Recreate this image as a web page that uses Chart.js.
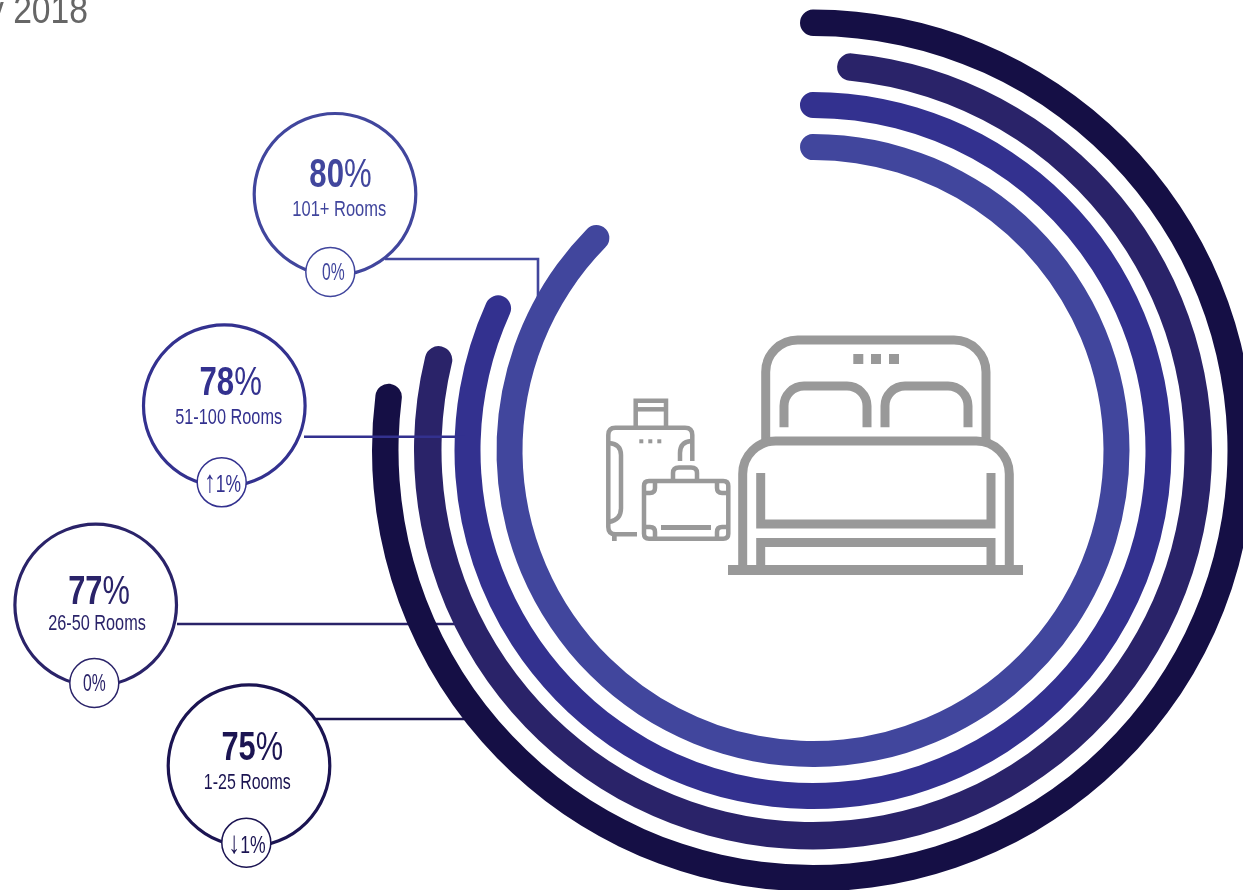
<!DOCTYPE html>
<html>
<head>
<meta charset="utf-8">
<title>Occupancy by property size</title>
<script src="https://cdn.jsdelivr.net/npm/chart.js@4/dist/chart.umd.min.js"></script>
<style>
    html, body { margin: 0; padding: 0; width: 1243px; height: 890px; overflow: hidden; background: #fff; }
    #rings { position: absolute; left: 0; top: 0; }
    #overlay { position: absolute; left: 0; top: 0; }
    text { font-family: "Liberation Sans", sans-serif; text-anchor: middle; }
</style>
</head>
<body>
<canvas id="rings" width="1300" height="900"></canvas>
<svg id="overlay" width="1243" height="890" xmlns="http://www.w3.org/2000/svg"></svg>

<script>
// Occupancy per property size, outermost ring first
const roomBands = ['1-25 Rooms', '26-50 Rooms', '51-100 Rooms', '101+ Rooms'];
const occupancy = [75, 77, 78, 80];
const changeLabels = ['↓1%', '0%', '↑1%', '0%'];
const titleText = 'y 2018';

// Ring styling
const ringColors = ['#150f45', '#2a2369', '#33318f', '#41469d'];
const ringThickness = [26.5, 27.5, 26, 26];
const ringGaps = [15.5, 13, 16];
const ringStart = [-1.74, 3.6, -2.16, -2.45];   // degrees from 12 o'clock
const ringSweep = [280.7, 282.05, 298.6, 319.35]; // degrees taken by each value

// Callout layout, same order as the rings
const bubbleCentres = [[249, 765.7], [95.7, 605], [224.3, 405.7], [335, 194.3]];
const badgeCentres = [[246.3, 842.7], [94.3, 683], [221.7, 482.3], [330.3, 272]];
const bubbleColors = ['#1b1452', '#2a2369', '#33318f', '#41469d'];
const leaderPaths = [
    [[316, 719], [470, 719]],
    [[177, 624], [456, 624]],
    [[304, 436.7], [465, 436.7]],
    [[385, 259], [538, 259], [538, 300]]
];
const leaderOnTop = [false, false, true, false];
const valueAnchors = [[252.3, 760], [99, 604.3], [230.7, 395], [340.5, 186.7]];
const valueWidths = [61.7, 61.7, 62.3, 62.3];
const bandAnchors = [[247.3, 788.7], [97, 630], [228.7, 424.3], [339.3, 216]];
const bandWidths = [87, 97.7, 107, 94];
const badgeAnchors = [[247, 853], [94.3, 690.5], [222.5, 492], [333.3, 280.3]];
const badgeWidths = [37.3, 22.7, 37, 22.7];

function buildDatasets() {
    const datasets = [];
    occupancy.forEach((value, i) => {
        datasets.push({
            data: [value, 100 - value],
            backgroundColor: [ringColors[i], 'transparent'],
            borderWidth: 0,
            borderRadius: 14,
            rotation: ringStart[i],
            circumference: ringSweep[i] * 100 / value,
            weight: ringThickness[i]
        });
        // Empty band between two rings
        if (i < ringGaps.length) {
            datasets.push({
                data: [1],
                backgroundColor: ['transparent'],
                borderWidth: 0,
                weight: ringGaps[i]
            });
        }
    });
    return datasets;
}

function drawLeader(ctx, i) {
    ctx.save();
    ctx.strokeStyle = bubbleColors[i];
    ctx.lineWidth = 2.6;
    ctx.lineJoin = 'miter';
    ctx.beginPath();
    leaderPaths[i].forEach((p, n) => {
        if (n === 0) ctx.moveTo(p[0], p[1]);
        else ctx.lineTo(p[0], p[1]);
    });
    ctx.stroke();
    ctx.restore();
}

function drawCircle(ctx, centre, radius, width, color) {
    ctx.save();
    ctx.beginPath();
    ctx.arc(centre[0], centre[1], radius, 0, Math.PI * 2);
    ctx.fillStyle = '#fff';
    ctx.fill();
    ctx.lineWidth = width;
    ctx.strokeStyle = color;
    ctx.stroke();
    ctx.restore();
}

const calloutPlugin = {
    id: 'callouts',
    beforeDatasetsDraw(chart) {
        occupancy.forEach((v, i) => {
            if (!leaderOnTop[i]) drawLeader(chart.ctx, i);
        });
    },
    afterDatasetsDraw(chart) {
        occupancy.forEach((v, i) => {
            if (leaderOnTop[i]) drawLeader(chart.ctx, i);
            drawCircle(chart.ctx, bubbleCentres[i], 80.8, 3.2, bubbleColors[i]);
            drawCircle(chart.ctx, badgeCentres[i], 24.5, 1.5, bubbleColors[i]);
        });
    }
};

new Chart(document.getElementById('rings'), {
    type: 'doughnut',
    data: { labels: ['Occupancy', 'Rest'], datasets: buildDatasets() },
    options: {
        responsive: false,
        animation: false,
        events: [],
        cutout: 290.5,
        layout: { padding: { left: 372, right: 46, top: 9.5, bottom: 8.5 } },
        plugins: { legend: { display: false }, tooltip: { enabled: false } }
    },
    plugins: [calloutPlugin]
});

// Texts and the two line icons sit in an svg above the canvas
const svg = document.getElementById('overlay');
const SVG_NS = 'http://www.w3.org/2000/svg';

// The text face is condensed, so every string is squeezed to a fixed width
function addText(x, y, size, color, width) {
    const t = document.createElementNS(SVG_NS, 'text');
    t.setAttribute('x', x);
    t.setAttribute('y', y);
    t.setAttribute('font-size', size);
    t.setAttribute('fill', color);
    t.setAttribute('textLength', width);
    t.setAttribute('lengthAdjust', 'spacingAndGlyphs');
    svg.appendChild(t);
    return t;
}

function addSpan(parent, text, attrs) {
    const s = document.createElementNS(SVG_NS, 'tspan');
    Object.keys(attrs).forEach(k => s.setAttribute(k, attrs[k]));
    s.textContent = text;
    parent.appendChild(s);
}

occupancy.forEach((value, i) => {
    const big = addText(valueAnchors[i][0], valueAnchors[i][1], 40, bubbleColors[i], valueWidths[i]);
    addSpan(big, String(value), { 'font-weight': '700' });
    big.appendChild(document.createTextNode('%'));

    addText(bandAnchors[i][0], bandAnchors[i][1], 21.5, bubbleColors[i], bandWidths[i]).textContent = roomBands[i];

    const badge = addText(badgeAnchors[i][0], badgeAnchors[i][1], 23, bubbleColors[i], badgeWidths[i]);
    const label = changeLabels[i];
    if (label.length > 2) {
        // Arrow glyphs are small in this face, give them more height
        addSpan(badge, label[0], { 'font-size': '31' });
        badge.appendChild(document.createTextNode(label.slice(1)));
    } else {
        badge.textContent = label;
    }
});

addText(37.5, 23, 39, '#666', 101).textContent = titleText;

function addIconPath(d, width) {
    const p = document.createElementNS(SVG_NS, 'path');
    p.setAttribute('d', d);
    p.setAttribute('fill', 'none');
    p.setAttribute('stroke', '#999');
    p.setAttribute('stroke-width', width);
    svg.appendChild(p);
}

function addIconBlock(x, y, w, h) {
    const r = document.createElementNS(SVG_NS, 'rect');
    r.setAttribute('x', x);
    r.setAttribute('y', y);
    r.setAttribute('width', w);
    r.setAttribute('height', h);
    r.setAttribute('fill', '#999');
    svg.appendChild(r);
}

// Bed
addIconPath('M765.7 441 V372 A32 32 0 0 1 797.7 340 H954 A32 32 0 0 1 986 372 V441', 9);
addIconPath('M742.7 565 V474 A33 33 0 0 1 775.7 441 H976 A33 33 0 0 1 1009.3 474 V565', 9);
addIconPath('M760.7 473 V524 H991 V473', 9);
addIconPath('M760.7 565 V542.5 H991 V565', 9);
addIconPath('M784 427.3 V406 A20 20 0 0 1 804 386 H847 A20 20 0 0 1 867 406 V427.3', 9);
addIconPath('M885 427.3 V406 A20 20 0 0 1 905 386 H948 A20 20 0 0 1 968 406 V427.3', 9);
addIconBlock(728, 565, 295, 10);
addIconBlock(853.3, 354, 10, 10);
addIconBlock(871, 354, 10, 10);
addIconBlock(889, 354, 10, 10);

// Suitcase
addIconPath('M692.3 461 V435 Q692.3 427.7 685 427.7 H615.5 Q608.3 427.7 608.3 435 V527 Q608.3 534.3 615.5 534.3 H637', 4.5);
addIconPath('M609 443 Q621 444 621 455 V508 Q621 520 609 522', 4.5);
addIconPath('M691 441 Q680 442 680 453 V461', 4.5);
addIconPath('M635.7 427 V400.7 H666 V427', 4.5);
addIconPath('M635.7 409.3 H666', 4.5);
addIconBlock(612, 535, 4.7, 6);
addIconBlock(639.3, 439.3, 4, 4);
addIconBlock(648.3, 439.3, 4, 4);
addIconBlock(657.3, 439.3, 4, 4);

// Briefcase
addIconPath('M649 481 H723.3 Q728.3 481 728.3 486 V533.7 Q728.3 538.7 723.3 538.7 H649 Q644 538.7 644 533.7 V486 Q644 481 649 481 Z', 4.5);
addIconPath('M673 481 V473 Q673 467.5 679 467.5 H691 Q697 467.5 697 473 V481', 4.5);
addIconPath('M644 493 H650 Q655 493 655 488 V482', 4.5);
addIconPath('M728 493 H722 Q717 493 717 488 V482', 4.5);
addIconPath('M644 527 H650 Q655 527 655 532 V538', 4.5);
addIconPath('M728 527 H722 Q717 527 717 532 V538', 4.5);
addIconBlock(661, 525, 50, 5);
</script>
</body>
</html>
